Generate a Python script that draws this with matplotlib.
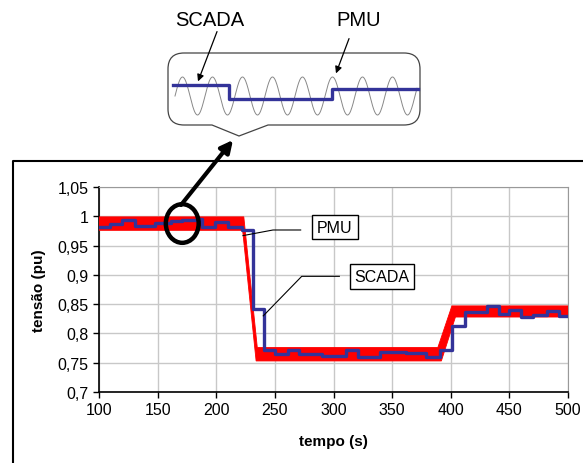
import numpy as np
import matplotlib
matplotlib.use("Agg")
import matplotlib.pyplot as plt
from matplotlib.patches import Ellipse, PathPatch
from matplotlib.path import Path
from matplotlib.ticker import FuncFormatter

plt.rcParams['font.family'] = ['Liberation Sans', 'DejaVu Sans']

# SCADA samples (step signal, value holds until next time)
scada_t = [100, 109, 120, 131, 148, 161, 171, 185, 188, 199, 210, 222, 231, 241,
           250, 261, 271, 290, 311, 321, 340, 362, 379, 391, 401, 412, 431, 441,
           450, 460, 470, 482, 492, 500]
scada_v = [0.981, 0.986, 0.994, 0.983, 0.989, 0.992, 0.993, 0.996, 0.981, 0.990,
           0.981, 0.977, 0.842, 0.772, 0.765, 0.771, 0.765, 0.761, 0.772, 0.759,
           0.768, 0.767, 0.760, 0.772, 0.813, 0.837, 0.847, 0.834, 0.840, 0.828,
           0.832, 0.838, 0.830, 0.830]

# PMU signal: noisy band, upper and lower envelope
pmu_hi_t = [100, 223.5, 235, 389, 401, 500]
pmu_hi_v = [0.999, 0.999, 0.776, 0.776, 0.847, 0.847]
pmu_lo_t = [100, 222.5, 234, 392, 404, 500]
pmu_lo_v = [0.976, 0.976, 0.753, 0.753, 0.828, 0.828]

x_ticks = [100, 150, 200, 250, 300, 350, 400, 450, 500]
y_ticks = [0.7, 0.75, 0.8, 0.85, 0.9, 0.95, 1.0, 1.05]

RED = '#ff0000'
BLUE = '#333399'

fig = plt.figure(figsize=(5.83, 4.64), dpi=100)
ax = fig.add_axes([99 / 583, 71 / 464, 469 / 583, 205 / 464])

# PMU band
poly_x = pmu_hi_t + pmu_lo_t[::-1]
poly_y = pmu_hi_v + pmu_lo_v[::-1]
ax.fill(poly_x, poly_y, color=RED, lw=0.6, zorder=3)

# SCADA step
ax.step(scada_t, scada_v, where='post', color=BLUE, lw=2.4, zorder=4)

ax.set_xlim(100, 500)
ax.set_ylim(0.7, 1.05)
ax.set_xticks(x_ticks)
ax.set_yticks(y_ticks)
ax.yaxis.set_major_formatter(FuncFormatter(lambda v, p: ('%g' % v).replace('.', ',')))
ax.tick_params(labelsize=11.5, length=4, width=1, direction='out', colors='black')
ax.grid(True, color='#c8c8c8', lw=1)
ax.set_axisbelow(True)
for s in ['top', 'right']:
    ax.spines[s].set_color('#999999')
for s in ['left', 'bottom']:
    ax.spines[s].set_color('black')
    ax.spines[s].set_linewidth(1.2)

ax.set_xlabel('tempo (s)', fontsize=11, fontweight='bold', labelpad=12)
ax.set_ylabel('tensão (pu)', fontsize=11, fontweight='bold', labelpad=8)

# callouts inside the chart
ax.plot([222.8, 248.4, 272], [0.967, 0.9766, 0.9766], color='black', lw=0.8,
        zorder=5)
ax.text(301.3, 0.9817, 'PMU', fontsize=11.5, ha='center', va='center', zorder=6,
        bbox=dict(boxstyle='square,pad=0.3', fc='white', ec='black', lw=1))
ax.plot([240.1, 272.9, 305], [0.830, 0.8975, 0.8975], color='black', lw=0.8,
        zorder=5)
ax.text(341.4, 0.897, 'SCADA', fontsize=11.5, ha='center', va='center', zorder=6,
        bbox=dict(boxstyle='square,pad=0.3', fc='white', ec='black', lw=1))

ax.add_patch(Ellipse((171, 0.9877), 28, 0.066, fill=False, ec='black', lw=3.2,
                     zorder=7, clip_on=False))

# overlay in pixel coordinates for the zoom inset and frame
ov = fig.add_axes([0, 0, 1, 1], zorder=10)
ov.set_xlim(0, 583)
ov.set_ylim(464, 0)
ov.axis('off')
ov.patch.set_alpha(0)

# outer frame of the chart
ov.plot([13, 13, 590], [470, 162, 162], color='black', lw=1.5)

# inset balloon
L, R, T, B, r = 168, 420, 54, 126, 16
verts = [(L, T + r), (L, T), (L + r, T), (R - r, T), (R, T), (R, T + r),
         (R, B - r), (R, B), (R - r, B), (268, B), (239, 137), (212, B),
         (L + r, B), (L, B), (L, B - r), (L, T + r)]
codes = [Path.MOVETO, Path.CURVE3, Path.CURVE3, Path.LINETO, Path.CURVE3,
         Path.CURVE3, Path.LINETO, Path.CURVE3, Path.CURVE3, Path.LINETO,
         Path.LINETO, Path.LINETO, Path.LINETO, Path.CURVE3, Path.CURVE3,
         Path.CLOSEPOLY]
ov.add_patch(PathPatch(Path(verts, codes), fc='white', ec='#444444', lw=0.9))

# schematic waveform inside the inset
wx = np.linspace(175, 417, 600)
ov.plot(wx, 97 - 19 * np.sin(2 * np.pi * (wx - 175) / 30.0), color='#888888',
        lw=0.7)
ov.plot([173, 229, 229, 332, 332, 418], [86, 86, 100, 100, 90, 90], color=BLUE,
        lw=2.4)

ov.text(210, 21, 'SCADA', fontsize=14.5, ha='center', va='center')
ov.text(359, 21, 'PMU', fontsize=14.5, ha='center', va='center')
ov.annotate('', xy=(197, 85), xytext=(218, 30),
            arrowprops=dict(arrowstyle='-|>', color='black', lw=0.9,
                            mutation_scale=10))
ov.annotate('', xy=(335, 77), xytext=(350, 37),
            arrowprops=dict(arrowstyle='-|>', color='black', lw=0.9,
                            mutation_scale=10))

# big arrow from the ellipse to the inset
ov.annotate('', xy=(233, 141), xytext=(181, 206),
            arrowprops=dict(arrowstyle='-|>', color='black', lw=3,
                            mutation_scale=18, shrinkA=0, shrinkB=0))

fig.savefig('out.png', dpi=100)
